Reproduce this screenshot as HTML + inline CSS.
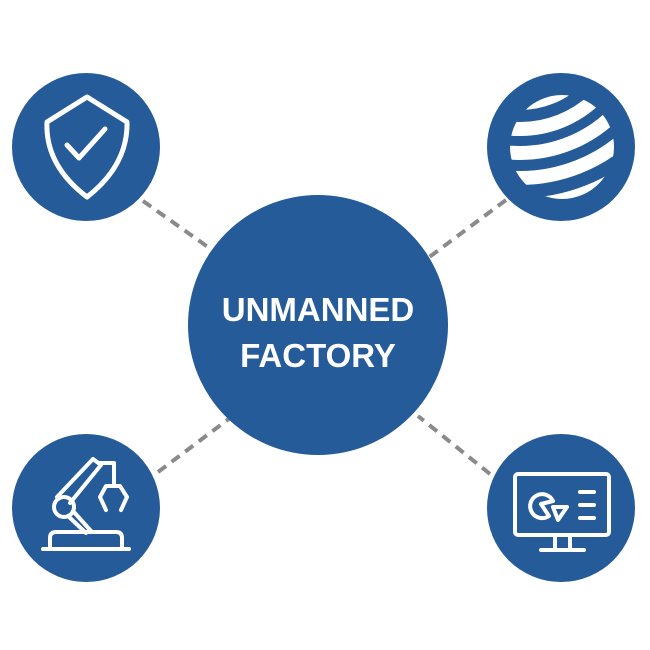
<!DOCTYPE html>
<html><head><style>
html,body{margin:0;padding:0;background:#fff;}
svg{display:block;}
</style></head><body>
<svg width="650" height="650" viewBox="0 0 650 650" xmlns="http://www.w3.org/2000/svg">
<defs>
<clipPath id="g"><circle cx="562" cy="147" r="52"/></clipPath>
</defs>
<g stroke="#8a8a8a" stroke-width="4" stroke-dasharray="10,7">
<line x1="143" y1="201" x2="215" y2="252"/>
<line x1="506" y1="200" x2="428" y2="258"/>
<line x1="158" y1="472" x2="230" y2="418"/>
<line x1="490" y1="474" x2="418" y2="416"/>
</g>
<g fill="#245b98">
<circle cx="318" cy="325" r="130"/>
<circle cx="86" cy="147" r="74"/>
<circle cx="561" cy="147" r="74"/>
<circle cx="86" cy="508" r="74"/>
<circle cx="561" cy="508" r="74"/>
</g>
<text x="318" y="321" fill="#fff" font-family="Liberation Sans, sans-serif" font-weight="bold" font-size="33" text-anchor="middle">UNMANNED</text>
<text x="318" y="367" fill="#fff" font-family="Liberation Sans, sans-serif" font-weight="bold" font-size="33" text-anchor="middle">FACTORY</text>
<g fill="none" stroke="#fff" stroke-width="5" stroke-linejoin="round" stroke-linecap="round">
<path d="M87 97 L47 122 Q45 165 87 197 Q128 165 127 122 Z"/>
<path d="M67 145 L79 158 L105 129"/>
</g>
<g clip-path="url(#g)" fill="none" stroke="#fff" stroke-width="14">
<circle cx="520" cy="20" r="83"/>
<circle cx="520" cy="20" r="109"/>
<circle cx="520" cy="20" r="133"/>
<circle cx="520" cy="20" r="158"/>
<circle cx="520" cy="20" r="185"/>
</g>
<g fill="none" stroke="#fff" stroke-width="4" stroke-linejoin="round" stroke-linecap="round">
<line x1="43" y1="549" x2="129" y2="549"/>
<path d="M50 548 V538 Q50 532 56 532 H116 Q122 532 122 538 V548"/>
<circle cx="64" cy="507" r="10"/>
<path d="M57 497 L93 459 L101 465 L70 503"/>
<path d="M68 516 L86 533 M73 511 L91 531"/>
<path d="M100 463 H114 V485"/>
<path d="M106 510 L100 497 L106 486 H120 L127 497 L121 510"/>
</g>
<g fill="none" stroke="#fff" stroke-width="4" stroke-linejoin="round" stroke-linecap="round">
<rect x="515" y="474" width="94" height="61" rx="3"/>
<line x1="555" y1="536" x2="555" y2="549"/>
<line x1="570" y1="536" x2="570" y2="549"/>
<line x1="541" y1="550" x2="584" y2="550"/>
<path d="M553 501 A12 12 0 1 0 549 516 L541 504 Z"/>
<path d="M553 507 L567 507 L558 520 Z"/>
<line x1="580" y1="492" x2="594" y2="492"/>
<line x1="580" y1="505" x2="594" y2="505"/>
<line x1="580" y1="518" x2="594" y2="518"/>
</g>
</svg>
</body></html>
